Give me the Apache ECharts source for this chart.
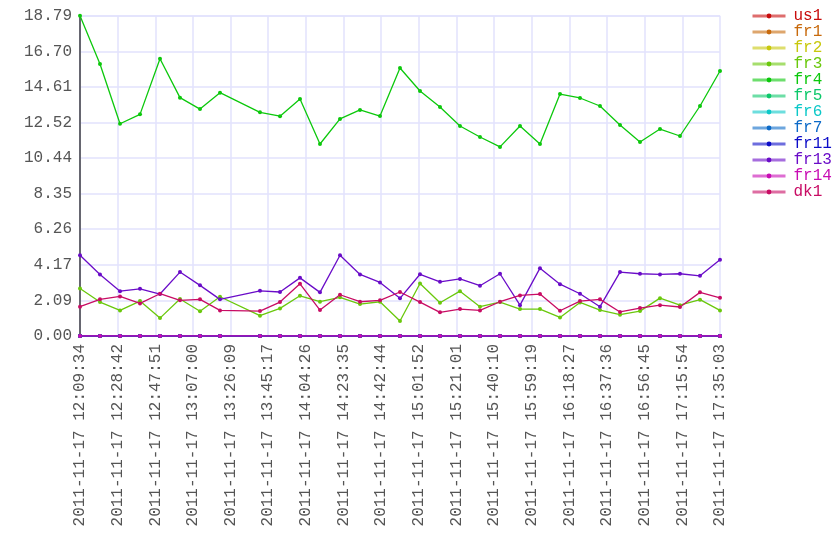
<!DOCTYPE html>
<html>
<head>
<meta charset="utf-8">
<script src="https://cdn.jsdelivr.net/npm/echarts@6/dist/echarts.min.js"></script>
<style>
html,body{margin:0;padding:0;background:#fff;}
#chart{width:840px;height:560px;}
</style>
</head>
<body>
<div id="chart"></div>
<script>
// ---- data ----
const DATE = "2011-11-17";
const times = ["12:09:34","12:19:44","12:29:55","12:40:05","12:50:15","13:00:25","13:10:36","13:20:46",
  "13:41:06","13:51:17","14:01:27","14:11:37","14:21:48","14:31:58","14:42:08","14:52:18",
  "15:02:29","15:12:39","15:22:49","15:32:59","15:43:10","15:53:20","16:03:30","16:13:41",
  "16:23:51","16:34:01","16:44:12","16:54:22","17:04:32","17:14:42","17:24:53","17:35:03"];
const seriesNames = ["us1","fr1","fr2","fr3","fr4","fr5","fr6","fr7","fr11","fr13","fr14","dk1"];
const seriesColors = ["#c80c0c","#c86a0c","#c8c80c","#6ac80c","#0cc80c","#0cc86a","#0cc8c8","#0c6ac8","#0c0cc8","#6a0cc8","#c80cb4","#c80c64"];
const zeros = [0,0,0,0,0,0,0,0,0,0,0,0,0,0,0,0,0,0,0,0,0,0,0,0,0,0,0,0,0,0,0,0];
const us1 = zeros, fr1 = zeros, fr2 = zeros, fr5 = zeros, fr6 = zeros, fr7 = zeros, fr11 = zeros, fr14 = zeros;
const fr3 = [2.79,1.99,1.50,2.05,1.05,2.17,1.45,2.30,
  1.19,1.62,2.36,2.01,2.27,1.87,2.01,0.88,
  3.08,1.95,2.63,1.72,1.99,1.58,1.58,1.09,
  1.97,1.52,1.25,1.46,2.22,1.81,2.13,1.50];
const fr4 = [18.786,15.95,12.45,13.00,16.26,13.98,13.31,14.27,
  13.12,12.89,13.90,11.26,12.73,13.26,12.90,15.72,
  14.37,13.43,12.32,11.67,11.09,12.32,11.26,14.19,
  13.96,13.49,12.38,11.38,12.14,11.73,13.49,15.54];
const fr13 = [4.74,3.61,2.63,2.77,2.46,3.75,2.97,2.15,
  2.65,2.58,3.41,2.56,4.74,3.61,3.14,2.21,
  3.62,3.18,3.35,2.95,3.65,1.81,3.98,3.04,
  2.48,1.72,3.75,3.65,3.61,3.65,3.53,4.47];
const dk1 = [1.72,2.15,2.32,1.91,2.48,2.09,2.15,1.50,
  1.46,1.99,3.06,1.52,2.42,2.01,2.09,2.58,
  1.99,1.39,1.58,1.50,2.01,2.38,2.46,1.48,
  2.05,2.15,1.41,1.64,1.81,1.70,2.56,2.24];
const seriesValues = [us1,fr1,fr2,fr3,fr4,fr5,fr6,fr7,fr11,fr13,fr14,dk1];
const Y_MAX = 18.786;
const Y_STEP = 2.0873;
const X_DIVISIONS = 17;

// ---- build ----
function secs(t){const p=t.split(":").map(Number);return p[0]*3600+p[1]*60+p[2];}
const T0 = secs(times[0]);
const T1 = secs(times[times.length-1]);
const STEP = (T1 - T0) / X_DIVISIONS;
function pad(n){return (n<10?"0":"")+n;}
function fmtTime(v){
  let s = Math.floor(T0 + v*STEP + 1e-6);
  const h=Math.floor(s/3600), m=Math.floor((s%3600)/60), ss=s%60;
  return DATE+" "+pad(h)+":"+pad(m)+":"+pad(ss);
}
const xs = times.map(t => (secs(t)-T0)/STEP);

const FONT = "'Liberation Mono', 'DejaVu Sans Mono', monospace";
const chart = echarts.init(document.getElementById('chart'), null, {renderer:'canvas'});
chart.setOption({
  animation:false,
  backgroundColor:'#ffffff',
  grid:{left:80, right:120, top:15.7, bottom:224, containLabel:false},
  legend:{
    orient:'vertical', left:751, top:8, padding:0,
    itemWidth:33, itemHeight:6, itemGap:0,
    lineStyle:{width:3, opacity:0.6},
    textStyle:{fontFamily:FONT, fontSize:16, lineHeight:16, padding:[0,0,0,3]},
    data: seriesNames.map((n,i)=>({name:n, textStyle:{color:seriesColors[i]}}))
  },
  xAxis:{
    type:'value', min:0, max:X_DIVISIONS, interval:1,
    axisLine:{show:true, onZero:false, lineStyle:{color:'#666670', width:2}},
    axisTick:{show:false},
    splitLine:{show:true, lineStyle:{color:'#e2e2fc', width:1.5}},
    axisLabel:{rotate:90, margin:8, color:'#555', fontFamily:FONT, fontSize:16, formatter:fmtTime}
  },
  yAxis:{
    type:'value', min:0, max:Y_MAX, interval:Y_STEP,
    axisLine:{show:true, lineStyle:{color:'#666670', width:2}},
    axisTick:{show:false},
    splitLine:{show:true, lineStyle:{color:'#e2e2fc', width:1.5}},
    axisLabel:{margin:8, color:'#555', fontFamily:FONT, fontSize:16,
      formatter:function(v){ if (v!==Y_MAX && Y_MAX - v < 0.01) return ''; return v.toFixed(2);} }
  },
  series: seriesNames.map((n,i)=>({
    name:n, type:'line',
    data: xs.map((x,k)=>[x, seriesValues[i][k]]),
    color: seriesColors[i],
    symbol:'circle', symbolSize:4, showSymbol:true,
    lineStyle:{width:1.3, color:seriesColors[i]},
    itemStyle:{color:seriesColors[i]},
    emphasis:{disabled:true}
  }))
});
</script>
</body>
</html>
